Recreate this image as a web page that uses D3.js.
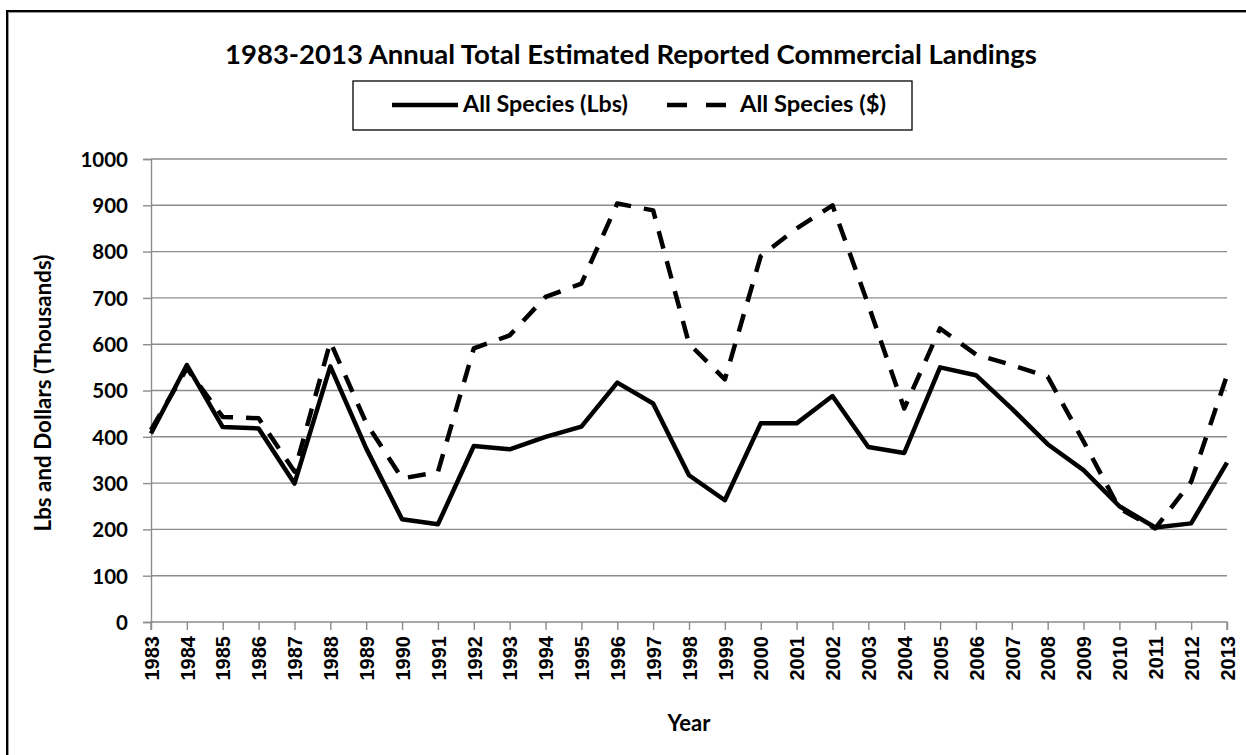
<!DOCTYPE html>
<html>
<head>
<meta charset="utf-8">
<script src="https://cdn.jsdelivr.net/npm/d3@7"></script>
<style>
  html, body { margin: 0; padding: 0; background: #fff; }
  svg { display: block; }
</style>
</head>
<body>
<svg id="chart" width="1246" height="755"></svg>
<script>
// ---- data ----
const years = ["1983","1984","1985","1986","1987","1988","1989","1990","1991","1992","1993","1994","1995","1996","1997","1998","1999","2000","2001","2002","2003","2004","2005","2006","2007","2008","2009","2010","2011","2012","2013"];
const lbsValues = [407,555,421,418,299,552,375,222,211,380,373,400,422,517,472,317,263,429,429,488,378,365,550,533,461,384,328,250,204,213,344];
const dollarValues = [415,548,443,440,325,605,430,310,324,591,619,702,731,904,889,601,524,790,850,900,685,461,634,578,555,530,390,245,202,303,533];
const yTicks = [0,100,200,300,400,500,600,700,800,900,1000];
const titleText = "1983-2013 Annual Total Estimated Reported Commercial Landings";
const seriesNames = ["All Species (Lbs)", "All Species ($)"];
const xTitle = "Year";
const yTitle = "Lbs and Dollars (Thousands)";

const svg = d3.select("#chart");
const W = 1246, H = 755;
const m = { left: 151, right: 1227, top: 159, bottom: 622 };
const calibriLike = "Lato, 'Noto Sans', sans-serif";
const arialLike = "'Liberation Sans', Arial, sans-serif";

// fit a text element to a target width by adjusting font-size
function fit(sel, target) {
  const node = sel.node();
  const fs = parseFloat(sel.style("font-size"));
  const w = node.getComputedTextLength();
  if (w > 0) sel.style("font-size", (fs * target / w).toFixed(2) + "px");
  return sel;
}
function label(sel, size, family) {
  return sel.style("font-family", family || calibriLike).style("font-weight", "bold")
    .style("font-size", size + "px").attr("fill", "#000");
}

// outer border (top & left visible; chart is cropped at right/bottom)
svg.append("rect").attr("x", 7).attr("y", 11).attr("width", W + 20).attr("height", H + 20)
  .attr("fill", "none").attr("stroke", "#000").attr("stroke-width", 2);
svg.append("rect").attr("x", 8.5).attr("y", 12.5).attr("width", W + 20).attr("height", H + 20)
  .attr("fill", "none").attr("stroke", "#999").attr("stroke-width", 1);

const x = d3.scalePoint().domain(years).range([m.left, m.right]);
const y = d3.scaleLinear().domain([0, 1000]).range([m.bottom, m.top]);

const grey = "#8c8c8c";

// gridlines
svg.append("g").selectAll("line").data(yTicks.filter(d => d > 0)).join("line")
  .attr("x1", m.left).attr("x2", m.right)
  .attr("y1", d => y(d)).attr("y2", d => y(d))
  .attr("stroke", grey).attr("stroke-width", 1.4);

// y axis
const yAxis = svg.append("g").attr("transform", `translate(${m.left},0)`)
  .call(d3.axisLeft(y).tickValues(yTicks).tickFormat(d3.format("d")).tickSize(8).tickPadding(15));
yAxis.select(".domain").attr("stroke", grey).attr("stroke-width", 1.4);
yAxis.selectAll(".tick line").attr("stroke", grey).attr("stroke-width", 1.4);
label(yAxis.selectAll(".tick text"), 20.5).attr("dy", "0.36em");

// x axis
const xAxis = svg.append("g").attr("transform", `translate(0,${m.bottom})`)
  .call(d3.axisBottom(x).tickSize(8).tickPadding(0));
xAxis.select(".domain").attr("stroke", grey).attr("stroke-width", 1.4).attr("d", `M${m.left},8V0H${m.right}V8`);
xAxis.selectAll(".tick line").attr("stroke", grey).attr("stroke-width", 1.4);
label(xAxis.selectAll(".tick text"), 20, arialLike)
  .attr("text-anchor", "end").attr("transform", "rotate(-90)")
  .attr("x", -14).attr("y", 0).attr("dy", "0.36em");

// lines
const lineGen = d3.line().x((d, i) => x(years[i])).y(d => y(d));
svg.append("path").datum(dollarValues).attr("d", lineGen)
  .attr("fill", "none").attr("stroke", "#000").attr("stroke-width", 4.5)
  .attr("stroke-dasharray", "18,13").attr("stroke-linejoin", "round");
svg.append("path").datum(lbsValues).attr("d", lineGen)
  .attr("fill", "none").attr("stroke", "#000").attr("stroke-width", 4.5)
  .attr("stroke-linejoin", "round");

// title
const t = label(svg.append("text"), 21).attr("x", 631).attr("y", 64).attr("text-anchor", "middle")
  .text(titleText);
fit(t, 812);

// legend
svg.append("rect").attr("x", 353).attr("y", 81).attr("width", 559).attr("height", 49)
  .attr("fill", "#fff").attr("stroke", "#000").attr("stroke-width", 1.3);
svg.append("line").attr("x1", 392).attr("x2", 458).attr("y1", 105).attr("y2", 105)
  .attr("stroke", "#000").attr("stroke-width", 4.5);
const l1 = label(svg.append("text"), 18).attr("x", 463).attr("y", 112).text(seriesNames[0]);
fit(l1, 165);
svg.append("line").attr("x1", 667).attr("x2", 726).attr("y1", 105).attr("y2", 105)
  .attr("stroke", "#000").attr("stroke-width", 4.5).attr("stroke-dasharray", "20,19");
const l2 = label(svg.append("text"), 18).attr("x", 740).attr("y", 112).text(seriesNames[1]);
fit(l2, 146);

// axis titles
const xt = label(svg.append("text"), 18).attr("x", (m.left + m.right) / 2).attr("y", 731).attr("text-anchor", "middle")
  .text(xTitle);
fit(xt, 43);
const yt = label(svg.append("text"), 18).attr("transform", `translate(51,393) rotate(-90)`).attr("text-anchor", "middle")
  .text(yTitle);
fit(yt, 277);
</script>
</body>
</html>
